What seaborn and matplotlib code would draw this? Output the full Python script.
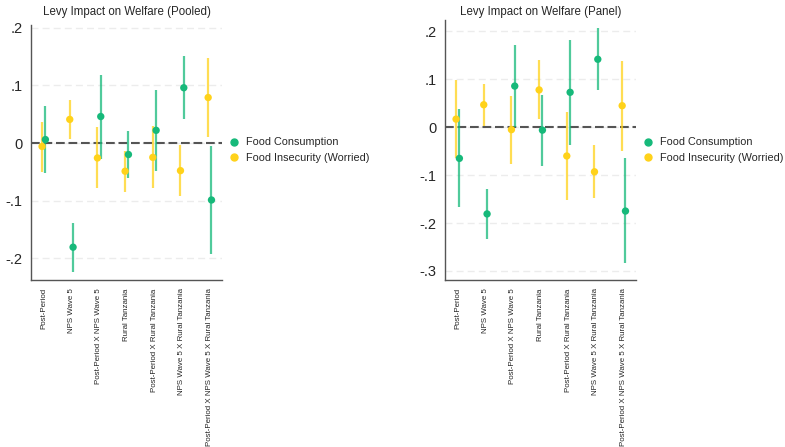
import numpy as np
import pandas as pd
import matplotlib
matplotlib.use("Agg")
import matplotlib.pyplot as plt
from matplotlib.lines import Line2D
import seaborn as sns

terms = ["Post-Period", "NPS Wave 5", "Post-Period X NPS Wave 5", "Rural Tanzania",
         "Post-Period X Rural Tanzania", "NPS Wave 5 X Rural Tanzania",
         "Post-Period X NPS Wave 5 X Rural Tanzania"]
outcomes = ["Food Consumption", "Food Insecurity (Worried)"]

# pooled sample: point estimate, lower CI, upper CI
pooled_cons = [0.006, -0.181, 0.046, -0.020, 0.022, 0.096, -0.099]
pooled_cons_lo = [-0.052, -0.224, -0.027, -0.061, -0.048, 0.041, -0.193]
pooled_cons_hi = [0.064, -0.139, 0.119, 0.021, 0.092, 0.151, -0.005]
pooled_worr = [-0.006, 0.041, -0.026, -0.049, -0.025, -0.048, 0.079]
pooled_worr_lo = [-0.050, 0.007, -0.079, -0.085, -0.079, -0.092, 0.010]
pooled_worr_hi = [0.036, 0.075, 0.027, -0.014, 0.029, -0.004, 0.148]

# panel sample
panel_cons = [-0.065, -0.181, 0.086, -0.006, 0.073, 0.142, -0.175]
panel_cons_lo = [-0.166, -0.234, 0.000, -0.080, -0.037, 0.077, -0.284]
panel_cons_hi = [0.038, -0.129, 0.172, 0.068, 0.183, 0.208, -0.064]
panel_worr = [0.017, 0.047, -0.005, 0.078, -0.060, -0.093, 0.045]
panel_worr_lo = [-0.064, 0.003, -0.077, 0.017, -0.151, -0.148, -0.049]
panel_worr_hi = [0.099, 0.091, 0.065, 0.141, 0.031, -0.037, 0.139]

rows = []
for panel, series in [("Pooled", [(pooled_cons, pooled_cons_lo, pooled_cons_hi),
                                   (pooled_worr, pooled_worr_lo, pooled_worr_hi)]),
                      ("Panel", [(panel_cons, panel_cons_lo, panel_cons_hi),
                                 (panel_worr, panel_worr_lo, panel_worr_hi)])]:
    for outcome, (est, lo, hi) in zip(outcomes, series):
        for i, t in enumerate(terms):
            rows.append({"panel": panel, "outcome": outcome, "term": t, "pos": i,
                         "coef": est[i], "lo": lo[i], "hi": hi[i]})
df = pd.DataFrame(rows)

sns.set_style("white")
plt.rcParams["font.family"] = ["Liberation Sans", "DejaVu Sans"]

colors = {"Food Consumption": "#16b97a", "Food Insecurity (Worried)": "#ffd21a"}
offsets = {"Food Consumption": 0.07, "Food Insecurity (Worried)": -0.05}

fig = plt.figure(figsize=(7.85, 4.47), dpi=100)
ax1 = fig.add_axes([31 / 785, 1 - 280 / 447, 191 / 785, 255 / 447])
ax2 = fig.add_axes([445 / 785, 1 - 280 / 447, 191 / 785, 260 / 447])

setups = [(ax1, "Pooled", (-0.238, 0.205), [-0.2, -0.1, 0, 0.1, 0.2], 234),
          (ax2, "Panel", (-0.319, 0.224), [-0.3, -0.2, -0.1, 0, 0.1, 0.2], 648)]

for ax, panel, ylim, yt, legx in setups:
    sub = df[df["panel"] == panel].copy()
    sub["x"] = sub["pos"] + sub["outcome"].map(offsets)
    for outcome in outcomes:
        s = sub[sub["outcome"] == outcome]
        ax.vlines(s["x"], s["lo"], s["hi"], color=colors[outcome], lw=1.6, alpha=0.75, zorder=3)
    ax.axhline(0, color="#555555", lw=1.5, ls=(0, (4.2, 1.8)), zorder=2)
    sns.scatterplot(data=sub, x="x", y="coef", hue="outcome", palette=colors,
                    s=28, edgecolor="none", ax=ax, zorder=4, legend=False)
    ax.set_xlim(-0.45, 6.45)
    ax.set_ylim(*ylim)
    ax.set_yticks(yt)
    ax.set_yticklabels([("%.1f" % v).replace("0.", ".") if v != 0 else "0" for v in yt], fontsize=10.5)
    ax.set_xticks(range(len(terms)))
    ax.set_xticklabels(terms, rotation=90, fontsize=5.7)
    ax.yaxis.grid(True, color="#ececec", lw=1.0, ls=(0, (5, 3)))
    ax.set_axisbelow(True)
    ax.set_xlabel("")
    ax.set_ylabel("")
    bb = ax.get_position()
    fig.text((bb.x0 + bb.x1) / 2, 1 - 12 / 447, "Levy Impact on Welfare (%s)" % panel,
             fontsize=8.3, ha="center", va="center")
    for side in ["top", "right"]:
        ax.spines[side].set_visible(False)
    for side in ["left", "bottom"]:
        ax.spines[side].set_color("#555555")
        ax.spines[side].set_linewidth(1.0)
    ax.tick_params(axis="both", direction="out", length=4, width=0.9, color="#555555", pad=2)
    handles = [Line2D([], [], ls="none", marker="o", ms=5, color=colors[o], label=o) for o in outcomes]
    ax.legend(handles=handles, loc="center left", frameon=False, fontsize=7.8,
              bbox_to_anchor=(legx / 785 - 0.012, 1 - 150 / 447), bbox_transform=fig.transFigure,
              handlelength=1.0, handletextpad=0.6, labelspacing=0.5, borderaxespad=0)

fig.savefig("out.png", dpi=100)
